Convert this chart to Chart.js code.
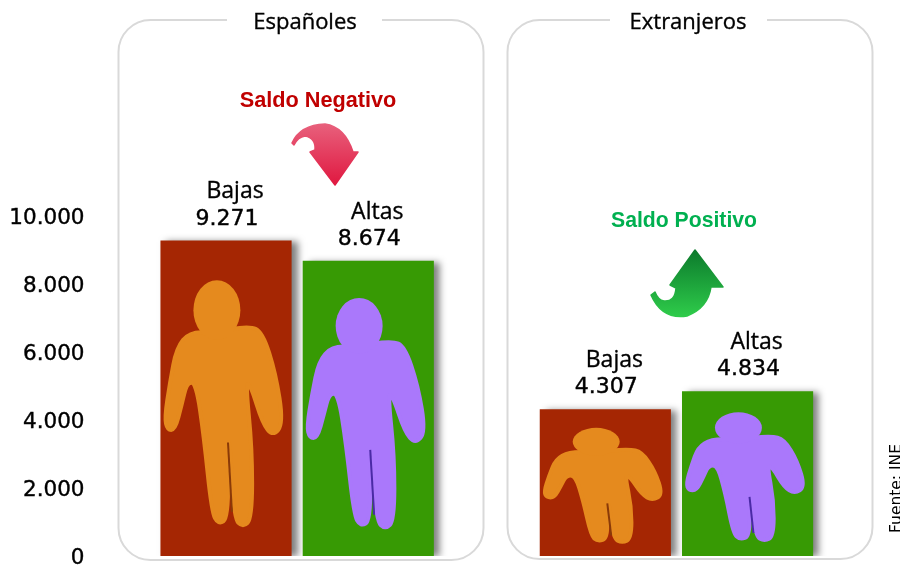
<!DOCTYPE html>
<html>
<head>
<meta charset="utf-8">
<style>
  html, body { margin: 0; padding: 0; background: #fff; }
  #wrap { width: 900px; height: 565px; }
  canvas { display: block; }
</style>
<script src="https://cdn.jsdelivr.net/npm/chart.js@4"></script>
</head>
<body>
<div id="wrap"><canvas id="chart" width="900" height="565"></canvas></div>
<script>
// blank slots keep the gap between the two groups
const categories = ['', '', 'Bajas', '', '', 'Altas', '', '', '', '', 'Bajas', '', '', 'Altas', '', ''];
const values = [null, null, 9271, null, null, 8674, null, null, null, null, 4307, null, null, 4834, null, null];
const yTicks = [0, 2000, 4000, 6000, 8000, 10000];
const barColors = { Bajas: '#a52603', Altas: '#379a04' };
const figureColors = { Bajas: '#e58a1e', Altas: '#aa78fb' };
const figureShade = { Bajas: '#8a3a08', Altas: '#4a2aa5' };

// outline of the little person, as fractions of its bar
const figureBody = [[.22,.29],[.12,.34],[.07,.45],[.03,.56],[.05,.60],[.11,.60],[.16,.52],[.20,.45],[.27,.45],
  [.33,.62],[.39,.86],[.44,.90],[.52,.88],[.51,.64],[.53,.64],[.56,.88],[.63,.91],[.70,.88],[.70,.66],[.65,.45],
  [.69,.46],[.78,.58],[.86,.62],[.94,.58],[.88,.42],[.78,.29],[.68,.27],[.40,.29]];

const fmt = v => String(v).replace(/\B(?=(\d{3})+$)/g, '.');

function heavyText(ctx, text, x, y, weight) {
  ctx.lineWidth = weight;
  ctx.fillText(text, x, y);
  ctx.strokeText(text, x, y);
}

function drawPanel(ctx, x, y, w, h, title, cx, gapL, gapR) {
  ctx.save();
  ctx.strokeStyle = '#d9d9d9';
  ctx.lineWidth = 2;
  ctx.beginPath();
  ctx.roundRect(x, y, w, h, 32);
  ctx.stroke();
  ctx.fillStyle = '#fff';
  ctx.fillRect(gapL, y - 3, gapR - gapL, 6);
  ctx.fillStyle = '#000';
  ctx.strokeStyle = '#000';
  ctx.font = '500 22px "Open Sans"';
  ctx.textAlign = 'center';
  ctx.textBaseline = 'middle';
  heavyText(ctx, title, cx, y + 3, 0.35);
  ctx.restore();
}

function drawFigure(ctx, bar, color, shade) {
  const left = bar.x - bar.width / 2, top = bar.y, h = bar.base - bar.y, w = bar.width;
  const px = u => left + u * w, py = v => top + v * h;
  ctx.save();
  ctx.fillStyle = color;
  ctx.strokeStyle = color;
  ctx.lineWidth = 4;
  ctx.lineJoin = 'round';
  // smooth the outline through the midpoints
  ctx.beginPath();
  const n = figureBody.length;
  const mid = (a, b) => [(px(a[0]) + px(b[0])) / 2, (py(a[1]) + py(b[1])) / 2];
  const start = mid(figureBody[n - 1], figureBody[0]);
  ctx.moveTo(start[0], start[1]);
  figureBody.forEach((p, i) => {
    const m = mid(p, figureBody[(i + 1) % n]);
    ctx.quadraticCurveTo(px(p[0]), py(p[1]), m[0], m[1]);
  });
  ctx.closePath();
  ctx.fill();
  ctx.stroke();
  ctx.beginPath();
  ctx.ellipse(px(.43), py(.22), w * .18, h * .095, 0, 0, Math.PI * 2);
  ctx.fill();
  // gap between the legs
  ctx.strokeStyle = shade;
  ctx.lineWidth = 2;
  ctx.beginPath();
  ctx.moveTo(px(.515), py(.64));
  ctx.lineTo(px(.545), py(.86));
  ctx.stroke();
  ctx.restore();
}

function drawArrow(ctx, points, c1, c2, y1, y2) {
  const g = ctx.createLinearGradient(0, y1, 0, y2);
  g.addColorStop(0, c1);
  g.addColorStop(1, c2);
  ctx.save();
  ctx.fillStyle = g;
  ctx.strokeStyle = g;
  ctx.lineWidth = 1.5;
  ctx.lineJoin = 'round';
  ctx.beginPath();
  ctx.moveTo(points[0], points[1]);
  for (let i = 2; i < points.length; i += 4) {
    if (points[i + 2] === null) ctx.lineTo(points[i], points[i + 1]);
    else ctx.quadraticCurveTo(points[i], points[i + 1], points[i + 2], points[i + 3]);
  }
  ctx.closePath();
  ctx.fill();
  ctx.stroke();
  ctx.restore();
}

const decorations = {
  id: 'decorations',
  beforeDraw(chart) {
    const ctx = chart.ctx;
    drawPanel(ctx, 118.5, 20, 365, 540, 'Españoles', 305, 227, 382);
    drawPanel(ctx, 507.5, 20, 365, 539, 'Extranjeros', 688, 610, 767);
  },
  beforeDatasetDraw(chart) {
    const ctx = chart.ctx;
    ctx.save();
    ctx.shadowColor = 'rgba(0,0,0,0.5)';
    ctx.shadowBlur = 7;
    ctx.shadowOffsetX = 6;
    ctx.shadowOffsetY = 1;
  },
  afterDatasetDraw(chart) {
    chart.ctx.restore();
  },
  afterDraw(chart) {
    const ctx = chart.ctx;
    const bars = chart.getDatasetMeta(0).data;
    categories.forEach((name, i) => {
      if (values[i] === null) return;
      const bar = bars[i];
      drawFigure(ctx, bar, figureColors[name], figureShade[name]);
      ctx.save();
      ctx.fillStyle = '#000';
      ctx.strokeStyle = '#000';
      ctx.textAlign = 'center';
      ctx.textBaseline = 'middle';
      ctx.font = '22px "DejaVu Sans"';
      heavyText(ctx, fmt(values[i]), bar.x + 1, bar.y - 22, 0.4);
      ctx.font = '500 23px "Open Sans"';
      heavyText(ctx, name, bar.x + 9, bar.y - 49, 0.35);
      ctx.restore();
    });

    ctx.save();
    ctx.textAlign = 'center';
    ctx.textBaseline = 'middle';
    ctx.font = 'bold 21.7px "Liberation Sans"';
    ctx.fillStyle = '#c00000';
    ctx.fillText('Saldo Negativo', 318, 101);
    ctx.fillStyle = '#00b050';
    ctx.font = 'bold 21.2px "Liberation Sans"';
    ctx.fillText('Saldo Positivo', 684, 221);
    ctx.restore();

    drawArrow(ctx, [292,143, 300,125,325,124, 345,127,353,152, 358,152,null,null, 335,185,null,null,
      310,152,null,null, 315,150,null,null, 316,138,305,136, 298,137,294,145], '#e8607c', '#e01840', 124, 185);
    drawArrow(ctx, [651,295, 662,320,687,316, 708,308,711,287, 723,287,null,null, 695,250,null,null,
      670,285,null,null, 676,288,null,null, 675,302,664,301, 658,300,655,292], '#0c7a2c', '#2ecb4a', 250, 316);

    ctx.save();
    ctx.translate(901, 533);
    ctx.rotate(-Math.PI / 2);
    ctx.fillStyle = '#000';
    ctx.font = '15.5px "DejaVu Sans"';
    ctx.textAlign = 'left';
    ctx.textBaseline = 'alphabetic';
    ctx.fillText('Fuente: INE', 0, 0);
    ctx.restore();
  }
};

new Chart(document.getElementById('chart').getContext('2d'), {
  type: 'bar',
  data: {
    labels: categories,
    datasets: [{
      data: values,
      backgroundColor: categories.map(c => barColors[c] || '#fff'),
      barThickness: 130.5
    }]
  },
  options: {
    responsive: false,
    animation: false,
    layout: { padding: { top: 216, bottom: 9, left: 0, right: 33.9 } },
    plugins: { legend: { display: false }, title: { display: false }, tooltip: { enabled: false } },
    scales: {
      x: { display: false, grid: { display: false } },
      y: {
        min: 0,
        max: 10000,
        afterFit(scale) { scale.width = 107.5; scale.paddingTop = 0; scale.paddingBottom = 0; },
        afterBuildTicks(scale) { scale.ticks = yTicks.map(v => ({ value: v })); },
        grid: { display: false, drawTicks: false },
        border: { display: false },
        ticks: {
          padding: 23,
          labelOffset: 2,
          color: '#000',
          textStrokeColor: '#000',
          textStrokeWidth: 0.4,
          font: { family: 'DejaVu Sans', size: 21.5 },
          callback: v => fmt(v)
        }
      }
    }
  },
  plugins: [decorations]
});
</script>
</body>
</html>
